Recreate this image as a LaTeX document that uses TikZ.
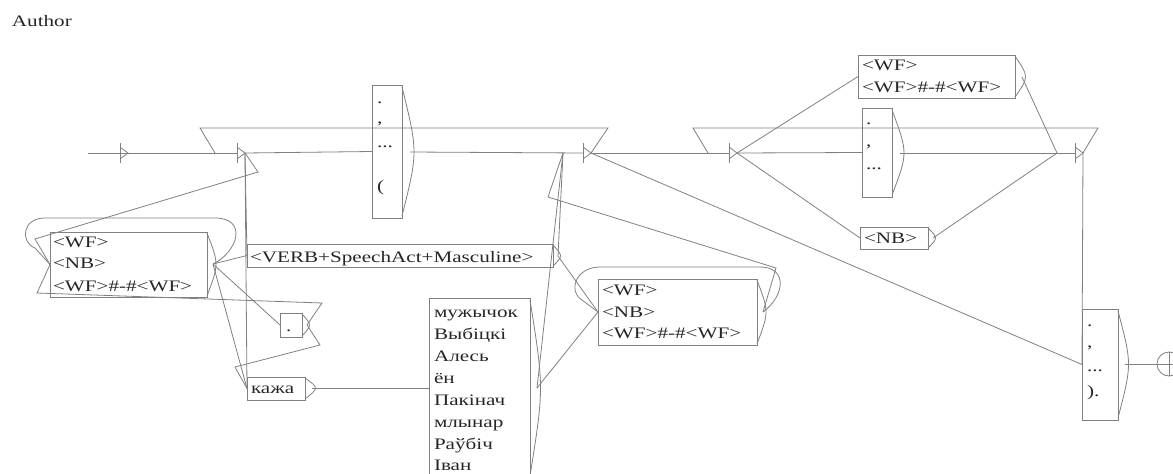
\documentclass[tikz,border=0pt]{standalone}
\usepackage{fontspec}
\setmainfont{Liberation Serif}
\begin{document}
\begin{tikzpicture}[x=1pt,y=-1pt,
  ln/.style={draw=black!50,line width=0.8pt},
  bx/.style={draw=black!50,line width=0.8pt,rectangle,inner sep=0pt,outer sep=0pt,anchor=north west},
  tx/.style={font=\fontsize{16}{22}\selectfont,text=black!85,inner sep=0pt,outer sep=0pt,anchor=base west,xscale=1.32},
  emark/.pic={\draw[ln] (0,-10) -- (0,10); \draw[ln] (0,-6) -- (8,0) -- (0,6);}
]
\useasboundingbox (0,0) rectangle (1173,474);
\node[tx] (author) at (12,26) {Author};

% empty states
\coordinate (start) at (88,153);
\coordinate (i0) at (120,153);
\coordinate (e1) at (237,153); \coordinate (e1o) at (245,153); \coordinate (e1i) at (215,153);
\coordinate (e2) at (583,153); \coordinate (e2o) at (591,153); \coordinate (e2i) at (563,153);
\coordinate (e3) at (729,153); \coordinate (e3o) at (737,153); \coordinate (e3i) at (708,153);
\coordinate (e4) at (1075,153); \coordinate (e4o) at (1083,153); \coordinate (e4i) at (1057,153);

% boxes
\node[bx,minimum width=157pt,minimum height=65pt] (wf1) at (50,232) {};
\draw[ln] (207,233) .. controls (219,264) .. (207,296); \coordinate (wf1o) at (213,264);
\node[tx] (wf1a) at (53,247) {<WF>};
\node[tx] (wf1b) at (53,268) {<NB>};
\node[tx] (wf1c) at (53,291) {<WF>\#-\#<WF>};

\node[bx,minimum width=306pt,minimum height=23pt] (verb) at (247,244) {};
\draw[ln] (553,245) .. controls (563,256) .. (553,266); \coordinate (verbo) at (558,256);
\node[tx] (verbt) at (250,262) {<VERB+SpeechAct+Masculine>};

\node[bx,minimum width=22pt,minimum height=24pt] (dot) at (280,313) {};
\draw[ln] (302,314) .. controls (312,325) .. (302,336); \coordinate (doto) at (307,325);
\node[tx] (dott) at (286,331) {.};

\node[bx,minimum width=58pt,minimum height=23pt] (kazha) at (247,377) {};
\draw[ln] (305,378) .. controls (319,388) .. (305,399); \coordinate (kazhao) at (312,388);
\node[tx] (kazhat) at (251,393) {кажа};

\node[bx,minimum width=101pt,minimum height=180pt] (words) at (429,298) {};
\draw[ln] (530,300) .. controls (544,388) .. (530,476); \coordinate (wordso) at (537,388);
\node[tx] (w1) at (434,317) {мужычок};
\node[tx] (w2) at (434,339) {Выбіцкі};
\node[tx] (w3) at (434,361) {Алесь};
\node[tx] (w4) at (434,383) {ён};
\node[tx] (w5) at (434,405) {Пакінач};
\node[tx] (w6) at (434,427) {млынар};
\node[tx] (w7) at (434,449) {Раўбіч};
\node[tx] (w8) at (434,470) {Іван};

\node[bx,minimum width=159pt,minimum height=66pt] (wf3) at (598,279) {};
\draw[ln] (757,280) .. controls (769,312) .. (757,344); \coordinate (wf3o) at (763,312);
\node[tx] (wf3a) at (602,295) {<WF>};
\node[tx] (wf3b) at (602,317) {<NB>};
\node[tx] (wf3c) at (602,338) {<WF>\#-\#<WF>};

\node[bx,minimum width=30pt,minimum height=133pt] (p1) at (372,85) {};
\draw[ln] (402,87) .. controls (418,152) .. (402,216); \coordinate (p1o) at (410,152);
\node[tx] (p1a) at (377,103) {.};
\node[tx] (p1b) at (377,123) {,};
\node[tx] (p1c) at (377,147) {...};
\node[tx] (p1d) at (377,191) {(};

\node[bx,minimum width=30pt,minimum height=89pt] (p2) at (862,108) {};
\draw[ln] (892,110) .. controls (908,153) .. (892,195); \coordinate (p2o) at (900,153);
\node[tx] (p2a) at (866,124) {.};
\node[tx] (p2b) at (866,146) {,};
\node[tx] (p2c) at (866,169) {...};

\node[bx,minimum width=157pt,minimum height=43pt] (wf2) at (858,55) {};
\draw[ln] (1015,56) .. controls (1029,77) .. (1015,97); \coordinate (wf2o) at (1022,77);
\node[tx] (wf2a) at (862,70) {<WF>};
\node[tx] (wf2b) at (862,92) {<WF>\#-\#<WF>};

\node[bx,minimum width=68pt,minimum height=22pt] (nb) at (860,227) {};
\draw[ln] (928,228) .. controls (938,238) .. (928,248); \coordinate (nbo) at (933,238);
\node[tx] (nbt) at (864,243) {<NB>};

\node[bx,minimum width=36pt,minimum height=111pt] (p3) at (1082,309) {};
\draw[ln] (1118,311) .. controls (1132,364) .. (1118,418); \coordinate (p3o) at (1125,364);
\node[tx] (p3a) at (1087,326) {.};
\node[tx] (p3b) at (1087,347) {,};
\node[tx] (p3c) at (1087,371) {...};
\node[tx] (p3d) at (1087,396) {).};

\node[circle,draw=black!50,line width=0.8pt,minimum size=24pt,inner sep=0pt] (fin) at (1169,364) {};
\draw[ln] (fin.north) -- (fin.south);
\draw[ln] (fin.west) -- (fin.east);

% main line and markers
\draw[ln] (start) -- (i0);
\draw[ln] (i0) -- (e1);
\draw[ln] (e1o) -- (p1.west);
\draw[ln] (p1o) -- (e2);
\draw[ln] (e2o) -- (e3);
\draw[ln] (e3o) -- (p2.west);
\draw[ln] (p2o) -- (e4);
\pic at (i0) {emark};
\pic at (e1) {emark};
\pic at (e2) {emark};
\pic at (e3) {emark};
\pic at (e4) {emark};

% loops over the main line
\draw[ln] (e2o) -- (608,128) -- (200,128) -- (e1i);
\draw[ln] (e4o) -- (1098,128) -- (693,128) -- (e3i);

% right part
\draw[ln] (e3o) -- (wf2.west);
\draw[ln] (wf2o) -- (e4i);
\draw[ln] (e3o) -- (nb.west);
\draw[ln] (nbo) -- (e4i);
\draw[ln] (e4o) -- (p3.west);
\draw[ln] (p3o) -- (fin.west);
\draw[ln] (e2o) -- (p3.west);

% left part
\draw[ln] (e1o) -- (verb.west);
\draw[ln] (e1o) -- (kazha.west);
\draw[ln] (e1o) -- (258,172) -- (35,239) -- (wf1.west);
\draw[ln] (wf1o) .. controls (238,252) and (248,218) .. (215,218) -- (45,218) .. controls (22,218) and (20,242) .. (35,248) -- (wf1.west);
\draw[ln] (wf1o) -- (verb.west);
\draw[ln] (wf1o) -- (dot.west);
\draw[ln] (wf1o) -- (kazha.west);
\draw[ln] (doto) -- (320,345) -- (235,367) -- (kazha.west);
\draw[ln] (doto) -- (322,303) -- (37,293) -- (wf1.west);
\draw[ln] (kazhao) -- (words.west);

% middle part
\draw[ln] (verbo) -- (e2i);
\draw[ln] (verbo) -- (wf3.west);
\draw[ln] (wordso) -- (e2i);
\draw[ln] (wordso) -- (wf3.west);
\draw[ln] (wf3o) .. controls (785,296) and (788,267) .. (760,267) -- (600,267) .. controls (575,267) and (568,292) .. (582,300) -- (wf3.west);
\draw[ln] (wf3o) -- (776,268) -- (548,197) -- (e2i);
\end{tikzpicture}
\end{document}
